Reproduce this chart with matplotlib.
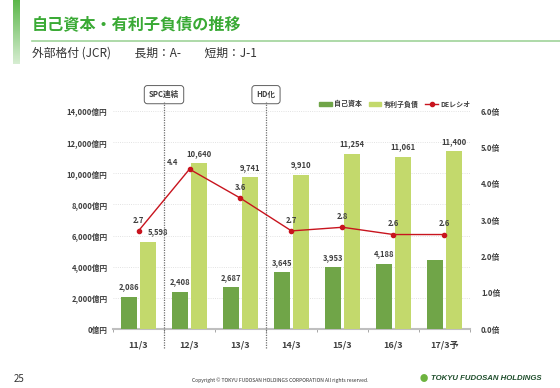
import numpy as np
import matplotlib.pyplot as plt
import matplotlib.transforms as mtransforms
from matplotlib.patches import Rectangle
from matplotlib.lines import Line2D

plt.rcParams['font.family'] = ['Noto Sans CJK JP', 'DejaVu Sans']

# データ
categories = ['11/3', '12/3', '13/3', '14/3', '15/3', '16/3', '17/3予']
equity = [2086, 2408, 2687, 3645, 3953, 4188, 4450]
equity_labels = ['2,086', '2,408', '2,687', '3,645', '3,953', '4,188', '']
debt = [5598, 10640, 9741, 9910, 11254, 11061, 11400]
debt_labels = ['5,598', '10,640', '9,741', '9,910', '11,254', '11,061', '11,400']
de_ratio = [2.7, 4.4, 3.6, 2.7, 2.8, 2.6, 2.6]
left_ticks = [0, 2000, 4000, 6000, 8000, 10000, 12000, 14000]
right_ticks = [0.0, 1.0, 2.0, 3.0, 4.0, 5.0, 6.0]
events = [(0.5, 'SPC連結'), (2.5, 'HD化')]

c_equity = '#70A548'
c_debt = '#C3D96C'
c_red = '#C8141E'
c_text = '#404040'

fig = plt.figure(figsize=(5.6, 3.88), dpi=100)

# タイトル周り（左の縦帯はグラデーション）
grad = np.linspace(1, 0, 60).reshape(-1, 1)
bar_ax = fig.add_axes([13 / 560, 1 - 64 / 388, 7 / 560, 64 / 388])
bar_ax.imshow(np.dstack([np.full_like(grad, 0.36), np.full_like(grad, 0.72),
                         np.full_like(grad, 0.29), 0.25 + 0.75 * grad]), aspect='auto')
bar_ax.axis('off')

fig.text(32 / 560, 1 - 24 / 388, '自己資本・有利子負債の推移', color='#3AAA35',
         fontsize=11.6, fontweight='bold', va='center', ha='left')
fig.add_artist(Line2D([32 / 560, 1.0], [1 - 41 / 388, 1 - 41 / 388],
                      transform=fig.transFigure, color='#9FD39A', lw=1.2))
fig.text(32 / 560, 1 - 53 / 388, '外部格付 (JCR)　　長期：A-　　短期：J-1', color='#333333',
         fontsize=8.5, va='center', ha='left')

ax = fig.add_axes([113 / 560, 59 / 388, 357 / 560, 218 / 388])
ax2 = ax.twinx()

x = np.arange(len(categories))
w = 0.31
ax.bar(x - 0.19, equity, w, color=c_equity, zorder=3)
ax.bar(x + 0.19, debt, w, color=c_debt, zorder=3)

for i in range(len(categories)):
    if equity_labels[i]:
        ax.text(x[i] - 0.19, equity[i] + 350, equity_labels[i], ha='center', va='bottom',
                fontsize=5.5, fontweight='bold', color=c_text)
    dx = 0.2 if i == 0 else 0.0
    ax.text(x[i] + 0.19 + dx, debt[i] + 350, debt_labels[i], ha='center', va='bottom',
            fontsize=5.5, fontweight='bold', color=c_text)

ax.set_xlim(-0.5, len(categories) - 0.5)
ax.set_ylim(0, 14000)
ax.set_yticks(left_ticks)
ax.set_yticklabels([f'{v:,}億円' for v in left_ticks], fontsize=5.5, fontweight='bold', color=c_text)
ax.set_xticks(x)
ax.set_xticklabels(categories, fontsize=6.5, fontweight='bold', color=c_text)
ax.tick_params(axis='x', length=0, pad=8)
ax.tick_params(axis='y', length=0, pad=4)
ax.set_xticks(np.arange(-0.5, len(categories), 1.0), minor=True)
ax.tick_params(axis='x', which='minor', length=2, color='#999999', direction='out')
ax.grid(axis='y', color='#D9D9D9', lw=0.6, ls=':', zorder=0)
for s in ['top', 'right', 'left']:
    ax.spines[s].set_visible(False)
ax.spines['bottom'].set_color('#BFBFBF')
ax.spines['bottom'].set_linewidth(1.5)

ax2.plot(x, de_ratio, color=c_red, lw=1.0, marker='o', ms=3, zorder=5)
for i, v in enumerate(de_ratio):
    if i == 1:
        ax2.text(x[i] - 0.22, v + 0.05, f'{v:.1f}', ha='right', va='bottom',
                 fontsize=5.5, fontweight='bold', color=c_text)
    else:
        ax2.text(x[i], v + 0.17, f'{v:.1f}', ha='center', va='bottom',
                 fontsize=5.5, fontweight='bold', color=c_text)
ax2.set_ylim(0, 6)
ax2.set_yticks(right_ticks)
ax2.set_yticklabels([f'{v:.1f}倍' for v in right_ticks], fontsize=5.5, fontweight='bold', color=c_text)
ax2.tick_params(axis='y', length=0, pad=8)
for s in ['top', 'right', 'left', 'bottom']:
    ax2.spines[s].set_visible(False)

# イベント線
trans = mtransforms.blended_transform_factory(ax.transData, ax.transAxes)
for ex, lab in events:
    ax.plot([ex, ex], [-0.085, 1.04], transform=trans, color='#707070', lw=0.9,
            ls=(0, (1, 1)), clip_on=False, zorder=4)
    ax.text(ex, 1.075, lab, transform=trans, ha='center', va='center', fontsize=5.5,
            fontweight='bold', color=c_text,
            bbox=dict(boxstyle='round,pad=0.6,rounding_size=0.4', fc='white', ec='#606060', lw=0.7))

# 凡例
handles = [Rectangle((0, 0), 1, 1, color=c_equity), Rectangle((0, 0), 1, 1, color=c_debt),
           Line2D([], [], color=c_red, lw=1.0, marker='o', ms=3)]
leg = ax.legend(handles, ['自己資本', '有利子負債', 'DEレシオ'], loc='lower right',
                bbox_to_anchor=(1.01, 1.0), ncol=3, frameon=False, fontsize=5,
                handlelength=1.8, handleheight=0.6, columnspacing=1.0, handletextpad=0.3,
                borderaxespad=0.1)
for t in leg.get_texts():
    t.set_fontweight('bold')
    t.set_color(c_text)

# フッター
fig.text(14 / 560, 1 - 379 / 388, '25', fontsize=7, color='#333333', va='center')
fig.text(280 / 560, 1 - 380 / 388, 'Copyright © TOKYU FUDOSAN HOLDINGS CORPORATION All rights reserved.',
         fontsize=3.6, color='#333333', va='center', ha='center')
fig.text(424 / 560, 1 - 379 / 388, '●', fontsize=6, color='#6DB33F', va='center', ha='center')
fig.text(431 / 560, 1 - 379 / 388, 'TOKYU FUDOSAN HOLDINGS', fontsize=5.6, color='#1F4E2C',
         fontweight='bold', style='italic', va='center', ha='left', family='Liberation Sans')

fig.savefig('out.png', dpi=100)
